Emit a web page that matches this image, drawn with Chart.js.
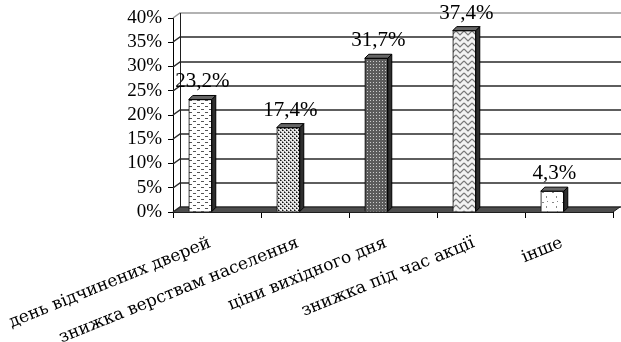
<!DOCTYPE html>
<html>
<head>
<meta charset="utf-8">
<script src="https://cdn.jsdelivr.net/npm/chart.js@4/dist/chart.umd.min.js"></script>
<style>
  html, body { margin: 0; padding: 0; background: #fff; }
  #wrap { width: 621px; height: 342px; }
</style>
</head>
<body>
<div id="wrap"><canvas id="chart"></canvas></div>
<script>
// data
const categories = ['день відчинених дверей', 'знижка верствам населення', 'ціни вихідного дня', 'знижка під час акції', 'інше'];
const shares = [23.2, 17.4, 31.7, 37.4, 4.3];
const yTicks = [0, 5, 10, 15, 20, 25, 30, 35, 40];

const SERIF = '"Liberation Serif", "Times New Roman", serif';
const WALL_DX = 7, WALL_DY = 5;   // depth of the back wall
const BAR_D = 4;                  // depth of each column

function makePattern(w, h, bg, draw) {
  const c = document.createElement('canvas');
  c.width = w; c.height = h;
  const g = c.getContext('2d');
  g.fillStyle = bg;
  g.fillRect(0, 0, w, h);
  draw(g);
  return g.createPattern(c, 'repeat');
}

const fills = [
  // short dashes
  makePattern(8, 6, '#fff', g => { g.fillStyle = '#555'; g.fillRect(1, 1, 3, 1); g.fillRect(5, 4, 3, 1); }),
  // dense dots
  makePattern(4, 4, '#e8e8e8', g => {
    g.fillStyle = '#111'; g.fillRect(0, 0, 1, 1); g.fillRect(2, 2, 1, 1);
    g.fillStyle = '#777'; g.fillRect(1, 0, 1, 1); g.fillRect(3, 2, 1, 1); g.fillRect(0, 3, 1, 1); g.fillRect(2, 1, 1, 1);
  }),
  // grey with light dots
  makePattern(3, 3, '#5c5c5c', g => { g.fillStyle = '#ccc'; g.fillRect(1, 1, 1, 1); }),
  // zigzag weave
  makePattern(8, 6, '#f2f2f2', g => {
    g.strokeStyle = '#777'; g.lineWidth = 1.2;
    g.beginPath(); g.moveTo(0, 1); g.lineTo(4, 5); g.lineTo(8, 1); g.stroke();
  }),
  // sparse blobs
  makePattern(10, 10, '#fff', g => { g.fillStyle = '#888'; g.fillRect(2, 2, 2, 1); g.fillRect(6, 6, 1, 2); g.fillRect(7, 1, 1, 1); })
];

const box3d = {
  id: 'box3d',
  beforeDatasetsDraw(chart) {
    const { ctx, chartArea: { left: L, right: R, top: T, bottom: B } } = chart;
    const ys = chart.scales.y;
    ctx.save();
    // floor
    ctx.fillStyle = '#4d4d4d';
    ctx.beginPath();
    ctx.moveTo(L, B); ctx.lineTo(R, B); ctx.lineTo(R + WALL_DX, B - WALL_DY); ctx.lineTo(L + WALL_DX, B - WALL_DY);
    ctx.closePath(); ctx.fill();
    // wall gridlines
    ctx.lineWidth = 1.5;
    yTicks.forEach(v => {
      const py = Math.round(ys.getPixelForValue(v));
      ctx.strokeStyle = v === yTicks[yTicks.length - 1] ? '#999' : '#2a2a2a';
      ctx.beginPath();
      ctx.moveTo(L, py); ctx.lineTo(L + WALL_DX, py - WALL_DY); ctx.lineTo(R + WALL_DX + 2, py - WALL_DY);
      ctx.stroke();
    });
    ctx.lineWidth = 1;
    ctx.strokeStyle = '#1e1e1e';
    ctx.beginPath();
    ctx.moveTo(L + WALL_DX + 0.5, T - WALL_DY); ctx.lineTo(L + WALL_DX + 0.5, B - WALL_DY);
    ctx.moveTo(R, B); ctx.lineTo(R + WALL_DX, B - WALL_DY);
    ctx.moveTo(L, B + 0.5); ctx.lineTo(R, B + 0.5);
    ctx.stroke();
    ctx.restore();
  },
  afterDatasetsDraw(chart) {
    const { ctx } = chart;
    const meta = chart.getDatasetMeta(0);
    ctx.save();
    ctx.strokeStyle = '#000';
    ctx.lineWidth = 1;
    meta.data.forEach((bar, i) => {
      const { x, y, base, width } = bar.getProps(['x', 'y', 'base', 'width'], true);
      const l = x - width / 2, r = x + width / 2;
      // side face
      ctx.fillStyle = '#2e2e2e';
      ctx.beginPath();
      ctx.moveTo(r, y); ctx.lineTo(r + BAR_D, y - BAR_D); ctx.lineTo(r + BAR_D, base - BAR_D); ctx.lineTo(r, base);
      ctx.closePath(); ctx.fill(); ctx.stroke();
      // top face
      ctx.fillStyle = '#666';
      ctx.beginPath();
      ctx.moveTo(l, y); ctx.lineTo(l + BAR_D, y - BAR_D); ctx.lineTo(r + BAR_D, y - BAR_D); ctx.lineTo(r, y);
      ctx.closePath(); ctx.fill(); ctx.stroke();
      // value label
      ctx.fillStyle = '#000';
      ctx.font = '21px ' + SERIF;
      ctx.textAlign = 'center';
      ctx.textBaseline = 'alphabetic';
      ctx.fillText(shares[i].toFixed(1).replace('.', ',') + '%', x + 2, y - 12);
    });
    ctx.restore();
  }
};

new Chart(document.getElementById('chart'), {
  type: 'bar',
  data: {
    labels: categories,
    datasets: [{
      data: shares.map((v, i) => ({ x: i, y: v })),
      xAxisID: 'xb',
      backgroundColor: fills,
      borderColor: '#000',
      borderWidth: 1,
      barThickness: 23
    }]
  },
  options: {
    responsive: true,
    maintainAspectRatio: false,
    animation: false,
    layout: { padding: { top: 18, right: 8, left: 0, bottom: 0 } },
    plugins: { legend: { display: false }, tooltip: { enabled: false } },
    scales: {
      xb: {
        type: 'linear', display: false, offset: false,
        min: -0.31, max: 4.69
      },
      x: {
        type: 'category',
        offset: true,
        grid: { offset: true, drawOnChartArea: false, tickLength: 6, color: '#000' },
        border: { display: true, color: '#000' },
        ticks: {
          autoSkip: false, maxRotation: 22, minRotation: 22,
          color: '#000', padding: 15, labelOffset: -7,
          font: { family: '"DejaVu Serif", serif', size: 17 }
        },
        afterFit: s => { s.height = 130; s.paddingLeft = 0; s.paddingRight = 0; }
      },
      y: {
        min: 0, max: 40,
        afterBuildTicks: s => { s.ticks = yTicks.map(v => ({ value: v })); },
        grid: { drawOnChartArea: false, tickLength: 5, color: '#000' },
        border: { display: true, color: '#000' },
        ticks: {
          autoSkip: false,
          color: '#000', padding: 6,
          font: { family: SERIF, size: 19 },
          callback: v => v + '%'
        },
        afterFit: s => { s.width = 173; }
      }
    }
  },
  plugins: [box3d]
});
</script>
</body>
</html>
